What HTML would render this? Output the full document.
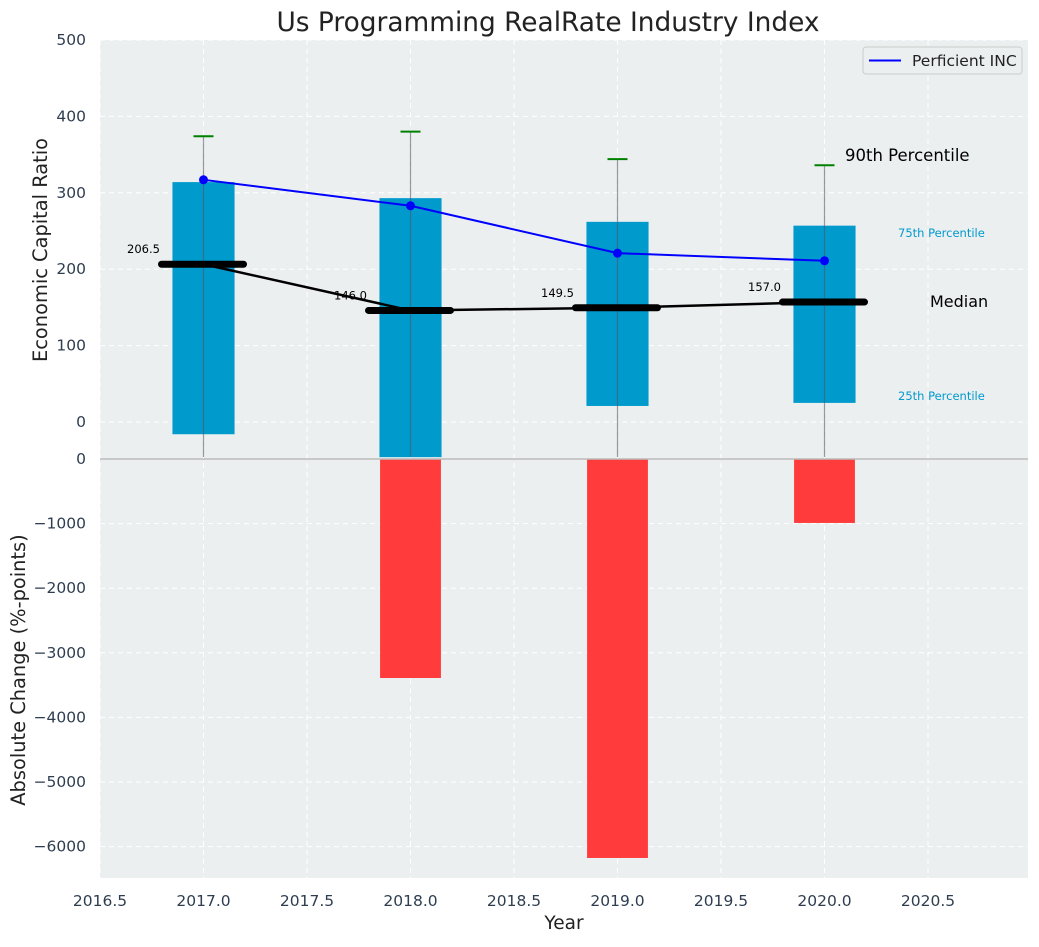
<!DOCTYPE html>
<html><head><meta charset="utf-8"><style>
body{margin:0;background:#fff;}
svg{font-family:"DejaVu Sans","Liberation Sans",sans-serif;}
</style></head><body>
<svg id="c" width="1039" height="942" xmlns="http://www.w3.org/2000/svg"></svg>
<script>
const years=[2017,2018,2019,2020];
const p25=[-16,-46,21,25];
const p75=[314,293,262,257];
const p90=[374,380,344,336];
const medians=[206.5,146.0,149.5,157.0];
const company=[317,283,221,211];
const changes=[0,-3390,-6176,-990];
const xTicks=[2016.5,2017,2017.5,2018,2018.5,2019,2019.5,2020,2020.5];
const yTopTicks=[0,100,200,300,400,500];
const yBotTicks=[0,-1000,-2000,-3000,-4000,-5000,-6000];

const svg=document.getElementById('c');
const NS='http://www.w3.org/2000/svg';
const L=100,R=1028,T1=40,B1=459,T2=459,B2=878;
const X=v=>L+(v-2016.5)*207;
const Y1=v=>422-v*0.764;
const Y2=v=>459-(v/1000)*64.6;
function el(t,a,txt){const e=document.createElementNS(NS,t);for(const k in a)e.setAttribute(k,a[k]);if(txt!==undefined)e.textContent=txt;svg.appendChild(e);return e;}

let e;
e=el('rect',{x:L,y:T1,width:R-L,height:B1-T1,fill:'#eceff0'});


e=el('rect',{x:L,y:T2,width:R-L,height:B2-T2,fill:'#eceff0'});


xTicks.forEach(v=>{e=el('line',{x1:X(v),x2:X(v),y1:T1,y2:B2,stroke:'#fff','stroke-dasharray':'5,4','stroke-width':1});

});
yTopTicks.forEach(v=>{e=el('line',{x1:L,x2:R,y1:Y1(v),y2:Y1(v),stroke:'#fff','stroke-dasharray':'5,4'});


e=el('text',{x:86,y:Y1(v)+5,'text-anchor':'end','font-size':15.5,fill:'#2e3e50'},v);

});
yBotTicks.forEach(v=>{e=el('line',{x1:L,x2:R,y1:Y2(v),y2:Y2(v),stroke:'#fff','stroke-dasharray':'5,4'});


e=el('text',{x:86,y:Y2(v)+5,'text-anchor':'end','font-size':15.5,fill:'#2e3e50'},v===0?'0':'\u2212'+Math.abs(v));

});
xTicks.forEach(v=>{e=el('text',{x:X(v),y:906,'text-anchor':'middle','font-size':15.5,fill:'#2e3e50'},v.toFixed(1));

});
years.forEach((y,i)=>{
 e=el('rect',{x:X(y-0.15),y:Y1(p75[i]),width:0.3*207,height:Y1(p25[i])-Y1(p75[i]),fill:'#009acd'});
 
 
 e=el('line',{x1:X(y),x2:X(y),y1:Y1(p90[i]),y2:457,stroke:'#556',"stroke-opacity":0.6,'stroke-width':1.2});
 
 
 e=el('line',{x1:X(y)-10,x2:X(y)+10,y1:Y1(p90[i]),y2:Y1(p90[i]),stroke:'green','stroke-width':2});
 
 
 if(changes[i]<0){e=el('rect',{x:X(y-0.147),y:Y2(0),width:0.294*207,height:Y2(changes[i])-Y2(0),fill:'#ff3b3b'});
 
 }
});
e=el('line',{x1:L,x2:R,y1:459,y2:459,stroke:'#bbb','stroke-width':1.5});


e=el('polyline',{points:years.map((y,i)=>X(y)+','+Y1(medians[i])).join(' '),fill:'none',stroke:'#000','stroke-width':2.5});


years.forEach((y,i)=>{
 e=el('line',{x1:X(y)-42,x2:X(y)+40,y1:Y1(medians[i]),y2:Y1(medians[i]),stroke:'#000','stroke-width':7,'stroke-linecap':'round'});
 
 
 e=el('text',{x:X(y)-60,y:Y1(medians[i])-11,'text-anchor':'middle','font-size':11.5,fill:'#000'},medians[i].toFixed(1));
 
 
});
e=el('polyline',{points:years.map((y,i)=>X(y)+','+Y1(company[i])).join(' '),fill:'none',stroke:'#0000ff','stroke-width':2});


years.forEach((y,i)=>{e=el('circle',{cx:X(y),cy:Y1(company[i]),r:4.5,fill:'#0000ff'});

});
e=el('text',{x:845,y:161,'font-size':16.5,fill:'#000'},'90th Percentile');

e=el('text',{x:898,y:237,'font-size':11.5,fill:'#009acd'},'75th Percentile');

e=el('text',{x:930,y:307,'font-size':16,fill:'#000'},'Median');

e=el('text',{x:898,y:400,'font-size':11.5,fill:'#009acd'},'25th Percentile');

e=el('rect',{x:863,y:47,width:159,height:27,fill:'#eceff0',stroke:'#ccc',rx:3});

e=el('line',{x1:869,x2:901,y1:60.5,y2:60.5,stroke:'#0000ff','stroke-width':2});

e=el('text',{x:912,y:66,'font-size':15.5,fill:'#222'},'Perficient INC');

e=el('text',{x:548,y:31,'text-anchor':'middle','font-size':26.4,fill:'#222'},'Us Programming RealRate Industry Index');

e=el('text',{x:564,y:929,'text-anchor':'middle','font-size':18.5,fill:'#222'},'Year');

e=el('text',{x:0,y:0,'text-anchor':'middle','font-size':19.4,fill:'#222',transform:'translate(47,250) rotate(-90)'},'Economic Capital Ratio');

e=el('text',{x:0,y:0,'text-anchor':'middle','font-size':19.4,fill:'#222',transform:'translate(25,670) rotate(-90)'},'Absolute Change (%-points)');

</script>
</body></html>
